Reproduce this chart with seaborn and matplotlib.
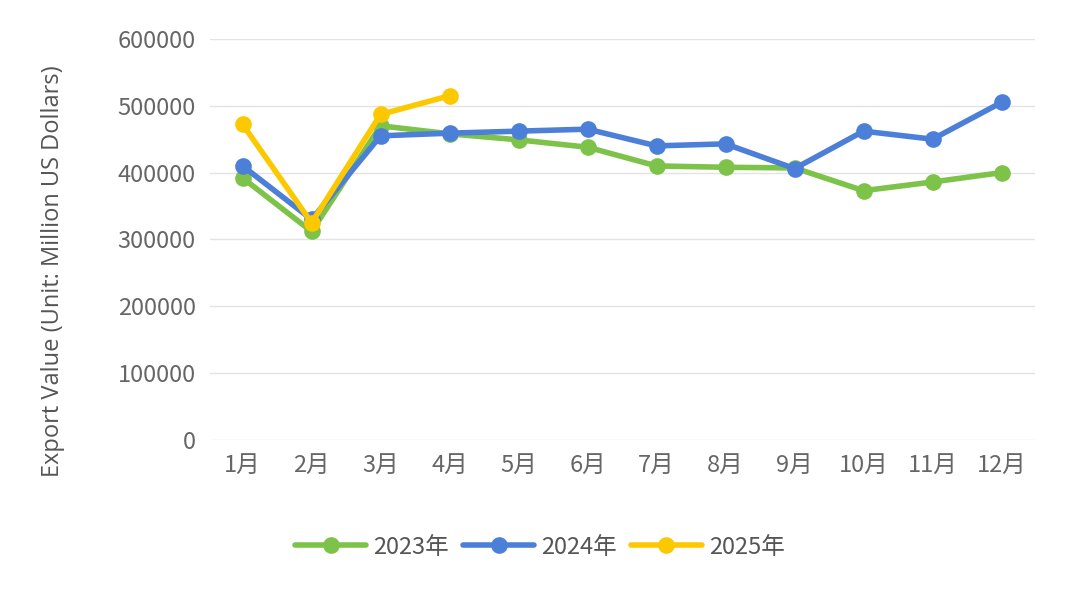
import matplotlib
matplotlib.use("Agg")
import matplotlib.pyplot as plt
import seaborn as sns
import pandas as pd

months = ["1月","2月","3月","4月","5月","6月","7月","8月","9月","10月","11月","12月"]
v2023 = [392000,312000,470000,458000,449000,438000,410000,408000,407000,373000,386000,400000]
v2024 = [410000,330000,455000,459000,462000,465000,440000,443000,406000,462000,450000,505000]
v2025 = [472000,325000,487000,515000]
yticks = [0,100000,200000,300000,400000,500000,600000]

rows = []
for name, vals in [("2023年", v2023), ("2024年", v2024), ("2025年", v2025)]:
    for i, v in enumerate(vals):
        rows.append({"month": i, "value": v, "series": name})
df = pd.DataFrame(rows)

cjk = ["Noto Sans CJK SC", "Noto Sans CJK JP", "Noto Sans CJK TC", "Noto Sans CJK KR", "DejaVu Sans"]
sns.set_theme(style="white", rc={"font.family": cjk})
fig = plt.figure(figsize=(10.8, 5.98), dpi=100)
ax = fig.add_axes([0.194, 0.264, 0.764, 0.671])
palette = {"2023年": "#7dc34a", "2024年": "#4b7fd8", "2025年": "#fcc800"}
sns.lineplot(data=df, x="month", y="value", hue="series", palette=palette, marker="o",
             markersize=12, markeredgewidth=0, linewidth=4, ax=ax, legend=True)
ax.set_xlim(-0.48, 11.48)
ax.set_ylim(0, 600000)
ax.set_yticks(yticks)
ax.set_yticklabels([str(t) for t in yticks])
ax.set_xticks(range(12))
ax.set_xticklabels(months)
ax.tick_params(axis="both", colors="#666666", labelsize=17, length=0, pad=10)
for lab in ax.get_xticklabels() + ax.get_yticklabels():
    lab.set_fontfamily(cjk)
ax.grid(axis="y", color="#e3e3e3", linewidth=1)
ax.set_axisbelow(True)
for s in ax.spines.values():
    s.set_visible(False)
ax.set_xlabel("")
ax.set_ylabel("Export Value (Unit: Million US Dollars)", fontsize=17, color="#555555",
              fontfamily="Open Sans")
ax.yaxis.set_label_coords(-0.175, 0.42)
leg = ax.legend(loc="center", ncol=3, frameon=False, fontsize=17, handlelength=3,
                columnspacing=0.6, handletextpad=0.3)
leg.set_bbox_to_anchor((0.5, 1 - 547/598), transform=fig.transFigure)
for t in leg.get_texts():
    t.set_color("#555555")
    t.set_fontfamily(cjk)
fig.savefig("out.png", dpi=100)
